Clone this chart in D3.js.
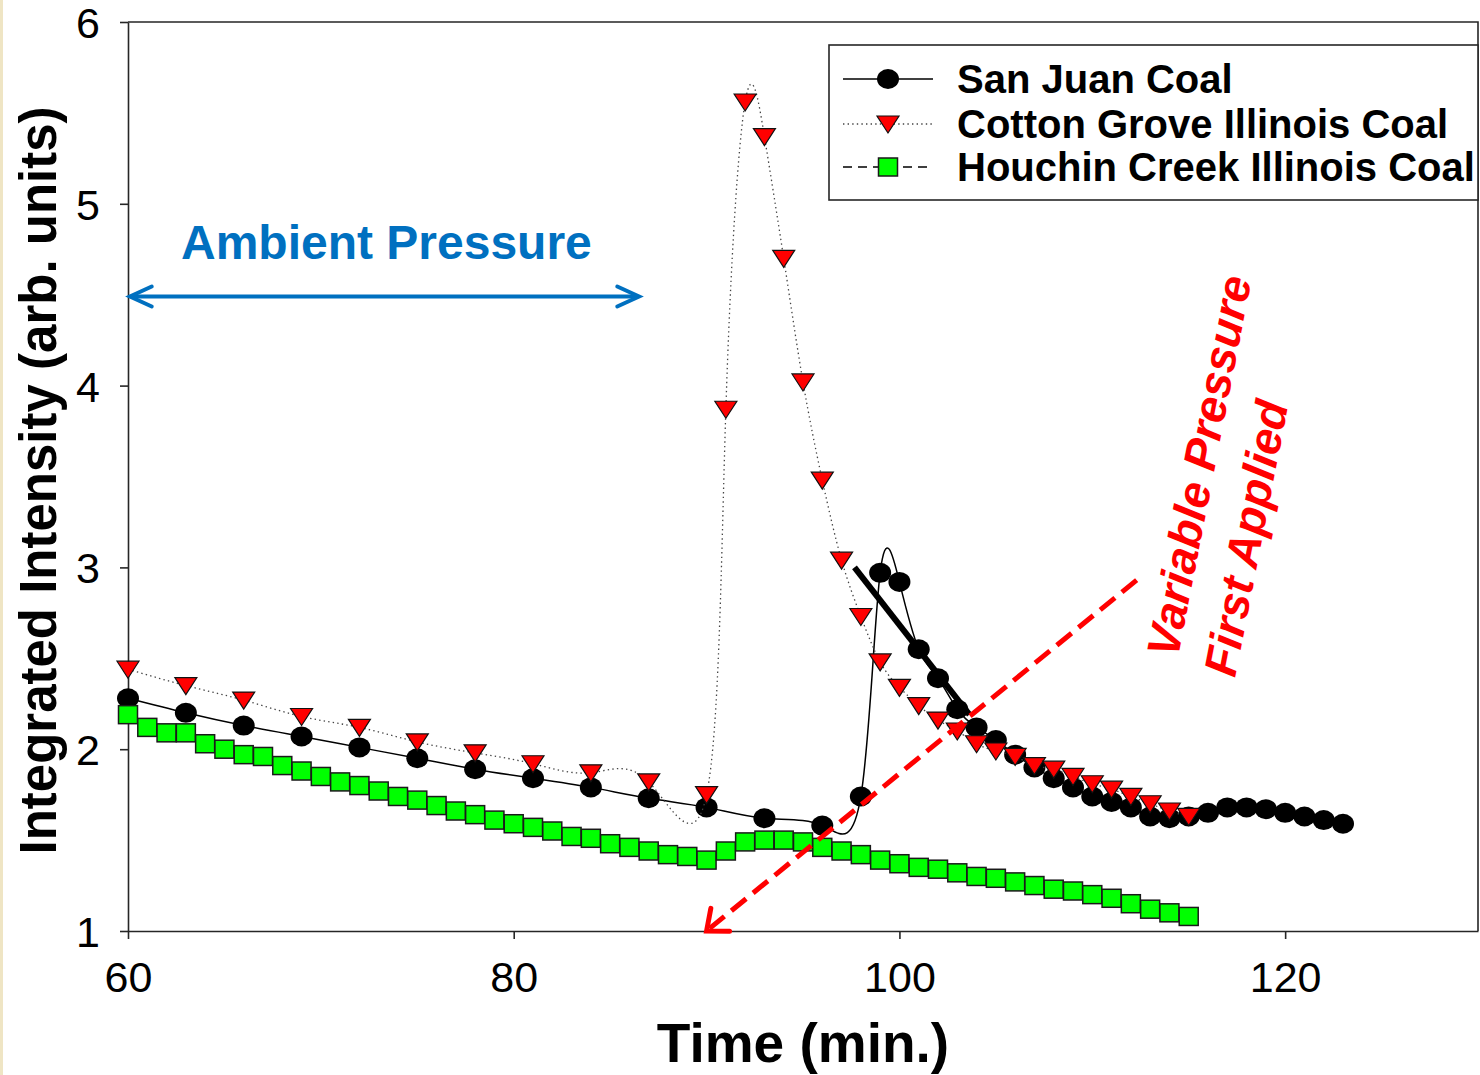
<!DOCTYPE html>
<html>
<head>
<meta charset="utf-8">
<script src="https://cdn.jsdelivr.net/npm/d3@7"></script>
<style>
  html, body { margin: 0; padding: 0; background: #fff; }
  svg { display: block; font-family: "Liberation Sans", Arial, sans-serif; }
</style>
</head>
<body>
<svg id="chart" width="1480" height="1075"></svg>
<script>
// ---- data ---------------------------------------------------------------
const sanJuanTime = [60, 63, 66, 69, 72, 75, 78, 81, 84, 87, 90, 93, 96,
  98, 99, 100, 101, 102, 103, 104, 105, 106, 107, 108, 109, 110, 111, 112,
  113, 114, 115, 116, 117, 118, 119, 120, 121, 122, 123];
const sanJuanValue = [2.28, 2.20, 2.13, 2.07, 2.01, 1.95, 1.89, 1.84, 1.79, 1.73, 1.68, 1.62, 1.58,
  1.74, 2.97, 2.92, 2.55, 2.39, 2.22, 2.12, 2.05, 1.97, 1.90, 1.84, 1.79, 1.74, 1.71, 1.68,
  1.63, 1.62, 1.63, 1.65, 1.68, 1.68, 1.67, 1.65, 1.63, 1.61, 1.59];

const cottonTime = [60, 63, 66, 69, 72, 75, 78, 81, 84, 87, 90,
  91, 92, 93, 94, 95, 96, 97, 98, 99, 100, 101, 102, 103, 104, 105, 106, 107,
  108, 109, 110, 111, 112, 113, 114, 115];
const cottonValue = [2.44, 2.35, 2.27, 2.18, 2.12, 2.04, 1.98, 1.92, 1.87, 1.82, 1.75,
  3.87, 5.56, 5.37, 4.70, 4.02, 3.48, 3.04, 2.73, 2.48, 2.34, 2.24, 2.16, 2.10,
  2.03, 1.99, 1.96, 1.91, 1.89, 1.85, 1.81, 1.78, 1.74, 1.70, 1.66, 1.63];

const houchinTime = [60, 61, 62, 63, 64, 65, 66, 67, 68, 69, 70, 71, 72, 73, 74, 75, 76, 77, 78, 79, 80,
  81, 82, 83, 84, 85, 86, 87, 88, 89, 90, 91, 92, 93, 94, 95, 96, 97, 98, 99, 100,
  101, 102, 103, 104, 105, 106, 107, 108, 109, 110, 111, 112, 113, 114, 115];
const houchinValue = [2.19, 2.12, 2.09, 2.09, 2.03, 2.00, 1.97, 1.96, 1.91, 1.88, 1.85, 1.82, 1.80, 1.77,
  1.74, 1.72, 1.69, 1.66, 1.64, 1.61, 1.59,
  1.57, 1.55, 1.52, 1.51, 1.48, 1.46, 1.44, 1.42, 1.41, 1.39,
  1.44, 1.49, 1.50, 1.50, 1.49, 1.46, 1.44, 1.42, 1.39, 1.37,
  1.35, 1.34, 1.32, 1.30, 1.29, 1.27, 1.25, 1.23, 1.22, 1.20, 1.18, 1.15, 1.12, 1.10, 1.08];

const seriesNames = ["San Juan Coal", "Cotton Grove Illinois Coal", "Houchin Creek Illinois Coal"];
const xTicks = [60, 80, 100, 120];
const yTicks = [1, 2, 3, 4, 5, 6];

// annotation anchors, in data units (time, intensity)
const ambientArrow = [[60.1, 4.49], [86.5, 4.49]];
const pressureArrow = [[112.3, 2.93], [90.0, 1.0]];
const slopeLine = [[97.67, 3.0], [103.63, 2.19]];

// ---- layout -------------------------------------------------------------
const W = 1480, H = 1075;
const margin = { top: 22, right: 2, bottom: 144, left: 128 };
const svg = d3.select("#chart");

// thin tan strip along the left edge of the slide
svg.append("rect").attr("x", 0).attr("y", 0).attr("width", 3).attr("height", H).attr("fill", "#efe5c4");

const x = d3.scaleLinear().domain([60, 130]).range([margin.left, W - margin.right]);
const y = d3.scaleLinear().domain([1, 6]).range([H - margin.bottom, margin.top]);

const line = d3.line().x(d => x(d[0])).y(d => y(d[1])).curve(d3.curveNatural);

const sanJuan = d3.zip(sanJuanTime, sanJuanValue);
const cotton = d3.zip(cottonTime, cottonValue);
const houchin = d3.zip(houchinTime, houchinValue);

// ---- axes & frame -------------------------------------------------------
const axisColor = "#262626";
const xAxis = svg.append("g")
  .attr("transform", `translate(0,${H - margin.bottom})`)
  .call(d3.axisBottom(x).tickValues(xTicks).tickFormat(d3.format("d"))
    .tickSizeInner(8).tickSizeOuter(0).tickPadding(22));
const yAxis = svg.append("g")
  .attr("transform", `translate(${margin.left},0)`)
  .call(d3.axisLeft(y).tickValues(yTicks).tickFormat(d3.format("d"))
    .tickSizeInner(8).tickSizeOuter(0).tickPadding(20));
[xAxis, yAxis].forEach(g => {
  g.select(".domain").attr("stroke", axisColor).attr("stroke-width", 1.6);
  g.selectAll(".tick line").attr("stroke", axisColor).attr("stroke-width", 1.6);
  g.selectAll(".tick text").attr("fill", "#000").attr("font-size", 43)
    .attr("font-family", "Liberation Sans, Arial, sans-serif");
});
xAxis.selectAll(".tick text").attr("dy", "0.71em");
yAxis.selectAll(".tick text").attr("dy", "0.36em");

// top and right frame
svg.append("path")
  .attr("d", `M${x(60)},${y(6)}H${x(130)}V${y(1)}`)
  .attr("fill", "none").attr("stroke", axisColor).attr("stroke-width", 1.6);

// axis titles
svg.append("text")
  .attr("x", 803).attr("y", 1062)
  .attr("text-anchor", "middle").attr("font-weight", "bold").attr("font-size", 55)
  .text("Time (min.)");
svg.append("text")
  .attr("transform", `translate(56,${(y(1) + y(6)) / 2 + 4}) rotate(-90)`)
  .attr("text-anchor", "middle").attr("font-weight", "bold").attr("font-size", 51)
  .text("Integrated Intensity (arb. units)");

// ---- series ---------------------------------------------------------------
const plot = svg.append("g");

// San Juan Coal: solid line, black circles
plot.append("path").datum(sanJuan).attr("d", line)
  .attr("fill", "none").attr("stroke", "#000").attr("stroke-width", 1.5);
plot.append("g").selectAll("ellipse").data(sanJuan).join("ellipse")
  .attr("cx", d => x(d[0])).attr("cy", d => y(d[1]))
  .attr("rx", 11).attr("ry", 10).attr("fill", "#000");

// Cotton Grove Illinois Coal: dotted line, red down-triangles
const tri = "M-11,-8L11,-8L0,9Z";
plot.append("path").datum(cotton).attr("d", line)
  .attr("fill", "none").attr("stroke", "#444").attr("stroke-width", 1.3)
  .attr("stroke-dasharray", "1.4,3.2");
plot.append("g").selectAll("path").data(cotton).join("path")
  .attr("d", tri).attr("transform", d => `translate(${x(d[0])},${y(d[1])})`)
  .attr("fill", "#ff0000").attr("stroke", "#111").attr("stroke-width", 1.2);

// Houchin Creek Illinois Coal: dashed line, green squares
plot.append("path").datum(houchin).attr("d", line)
  .attr("fill", "none").attr("stroke", "#000").attr("stroke-width", 1.3)
  .attr("stroke-dasharray", "9,6");
plot.append("g").selectAll("rect").data(houchin).join("rect")
  .attr("x", d => x(d[0]) - 9.5).attr("y", d => y(d[1]) - 9)
  .attr("width", 19).attr("height", 18)
  .attr("fill", "#00ff00").attr("stroke", "#1a1a1a").attr("stroke-width", 1.5);

// thick guide along the San Juan decay
svg.append("line")
  .attr("x1", x(slopeLine[0][0])).attr("y1", y(slopeLine[0][1]))
  .attr("x2", x(slopeLine[1][0])).attr("y2", y(slopeLine[1][1]))
  .attr("stroke", "#000").attr("stroke-width", 6);

// ---- legend ---------------------------------------------------------------
const legend = svg.append("g");
legend.append("rect").attr("x", 829).attr("y", 45).attr("width", 649).attr("height", 155)
  .attr("fill", "#fff").attr("stroke", axisColor).attr("stroke-width", 1.6);
const legendRows = [
  { name: seriesNames[0], cy: 79, dash: null, color: "#000", width: 1.5 },
  { name: seriesNames[1], cy: 124, dash: "1.4,3.2", color: "#444", width: 1.3 },
  { name: seriesNames[2], cy: 167, dash: "9,6", color: "#000", width: 1.3 }
];
legendRows.forEach((r, i) => {
  legend.append("line").attr("x1", 843).attr("x2", 933).attr("y1", r.cy).attr("y2", r.cy)
    .attr("stroke", r.color).attr("stroke-width", r.width)
    .attr("stroke-dasharray", r.dash);
  if (i === 0) {
    legend.append("ellipse").attr("cx", 888).attr("cy", r.cy).attr("rx", 11).attr("ry", 10).attr("fill", "#000");
  } else if (i === 1) {
    legend.append("path").attr("d", tri).attr("transform", `translate(888,${r.cy})`)
      .attr("fill", "#ff0000").attr("stroke", "#111").attr("stroke-width", 1.2);
  } else {
    legend.append("rect").attr("x", 878.5).attr("y", r.cy - 9).attr("width", 19).attr("height", 18)
      .attr("fill", "#00ff00").attr("stroke", "#1a1a1a").attr("stroke-width", 1.5);
  }
  legend.append("text").attr("x", 957).attr("y", r.cy + 14)
    .attr("font-weight", "bold").attr("font-size", 40).attr("fill", "#000")
    .text(r.name);
});

// ---- annotations ------------------------------------------------------------
const blue = "#0070c0";
svg.append("text").attr("x", 181).attr("y", 259)
  .attr("font-weight", "bold").attr("font-size", 48).attr("fill", blue)
  .text("Ambient Pressure");

function chevron(g, tip, from, len, spread, color, width) {
  const ang = Math.atan2(from[1] - tip[1], from[0] - tip[0]);
  const pts = [ang - spread, ang + spread].map(a => [tip[0] + len * Math.cos(a), tip[1] + len * Math.sin(a)]);
  g.append("path")
    .attr("d", `M${pts[0][0]},${pts[0][1]}L${tip[0]},${tip[1]}L${pts[1][0]},${pts[1][1]}`)
    .attr("fill", "none").attr("stroke", color).attr("stroke-width", width)
    .attr("stroke-linecap", "round").attr("stroke-linejoin", "miter");
}

const ann = svg.append("g");
const bA = [x(ambientArrow[0][0]), y(ambientArrow[0][1])];
const bB = [x(ambientArrow[1][0]), y(ambientArrow[1][1])];
ann.append("line").attr("x1", bA[0] + 2).attr("y1", bA[1]).attr("x2", bB[0] - 2).attr("y2", bB[1])
  .attr("stroke", blue).attr("stroke-width", 4);
chevron(ann, bA, bB, 24, 0.43, blue, 4);
chevron(ann, bB, bA, 24, 0.43, blue, 4);

const rA = [x(pressureArrow[0][0]), y(pressureArrow[0][1])];
const rB = [x(pressureArrow[1][0]), y(pressureArrow[1][1])];
ann.append("line").attr("x1", rA[0]).attr("y1", rA[1]).attr("x2", rB[0] + 3).attr("y2", rB[1] - 2.5)
  .attr("stroke", "#ff0000").attr("stroke-width", 5).attr("stroke-dasharray", "19,9");
chevron(ann, rB, rA, 23, 0.7, "#ff0000", 5);

const note = svg.append("g").attr("transform", "translate(1162,656) rotate(-79)");
note.append("text").attr("x", 0).attr("y", 16)
  .attr("font-weight", "bold").attr("font-style", "italic").attr("font-size", 46).attr("fill", "#ff0000")
  .text("Variable Pressure");
note.append("text").attr("x", -8).attr("y", 76)
  .attr("font-weight", "bold").attr("font-style", "italic").attr("font-size", 46).attr("fill", "#ff0000")
  .text("First Applied");
</script>
</body>
</html>
